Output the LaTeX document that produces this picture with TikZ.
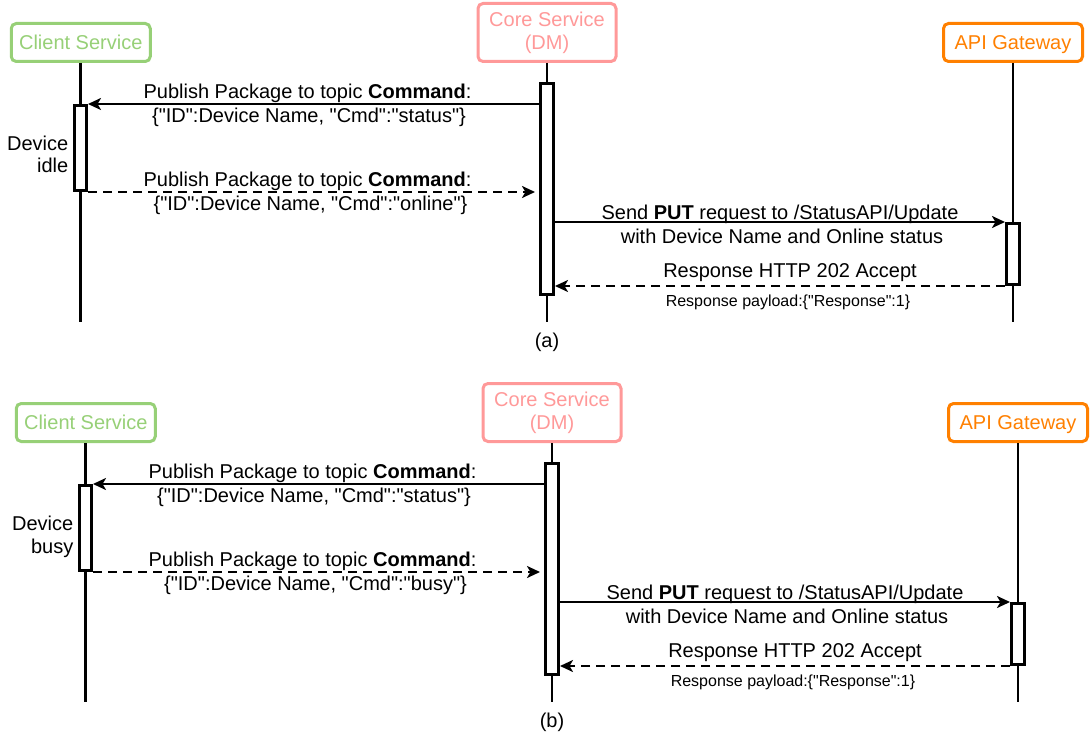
\documentclass[tikz,border=0pt]{standalone}
\usepackage{fontspec}
\setmainfont{Liberation Sans}[Ligatures=TeXOff]
\usetikzlibrary{arrows.meta}
\definecolor{cgreen}{HTML}{97D077}
\definecolor{cpink}{HTML}{FF9999}
\definecolor{corange}{HTML}{FF8000}
\tikzset{
  titlebox/.style={draw=#1, text=#1, line width=3pt, rounded corners=5pt, fill=white,
    inner sep=0pt, font=\fontsize{20}{23}\selectfont, align=center},
  life/.style={line width=2.6pt},
  actbox/.style={draw, fill=white, line width=3pt, minimum width=12pt, inner sep=0pt},
  msg/.style={line width=2.6pt, -{Stealth[length=13pt,width=12pt,inset=3.5pt]}},
  reply/.style={msg, dash pattern=on 9pt off 6pt},
  lbl/.style={anchor=base, inner sep=0pt, font=\fontsize{20}{23}\selectfont},
  smalllbl/.style={anchor=base, inner sep=0pt, font=\fontsize{16}{19}\selectfont},
}
\newcommand\seqdiag[4]{%
  % title boxes
  \node[titlebox=cgreen, minimum width=139pt, minimum height=38pt, text height=14pt, text depth=0pt] (cl#1) at (80.75,42.5) {Client Service};
  \node[titlebox=cpink, minimum width=138pt, minimum height=58pt] (co#1) at (547,32.5) {Core Service\\(DM)};
  \node[titlebox=corange, minimum width=139pt, minimum height=38pt, text height=14pt, text depth=0pt] (ap#1) at (1013,42.5) {API Gateway};
  % lifeline ends
  \coordinate (cle#1) at (80.75,322);
  \coordinate (coe#1) at (547,322);
  \coordinate (ape#1) at (1013,322);
  \draw[life] (cl#1.south) -- (cle#1);
  \draw[life] (co#1.south) -- (coe#1);
  \draw[life] (ap#1.south) -- (ape#1);
  % activations
  \node[actbox, minimum height=85pt] (ca#1) at (80.5,148) {};
  \node[actbox, minimum width=13pt, minimum height=211pt] (ka#1) at (547,189) {};
  \node[actbox, minimum width=13pt, minimum height=61pt] (aa#1) at (1013,254) {};
  % messages
  \draw[msg] (ca#1.north east -| ka#1.west) -- (ca#1.north east);
  \draw[reply, shorten >=4pt] (ca#1.south east) -- (ca#1.south east -| ka#1.west);
  \draw[msg] (aa#1.north west -| ka#1.east) -- (aa#1.north west);
  \draw[reply] (aa#1.south west) -- (aa#1.south west -| ka#1.east);
  % labels
  \node[lbl] (l1a#1) at (307.5,98.3) {Publish Package to topic \textbf{Command}:};
  \node[lbl] (l1b#1) at (309,122.3) {\{"ID":Device Name, "Cmd":"status"\}};
  \node[lbl] (l2a#1) at (307.5,186.5) {Publish Package to topic \textbf{Command}:};
  \node[lbl] (l2b#1) at (310.5,210.3) {\{"ID":Device Name, "Cmd":"#3"\}};
  \node[lbl] (l3a#1) at (780,219.3) {Send \textbf{PUT} request to /StatusAPI/Update};
  \node[lbl] (l3b#1) at (782,243.3) {with Device Name and Online status};
  \node[lbl] (l4a#1) at (790,277.3) {Response HTTP 202 Accept};
  \node[smalllbl] (l4b#1) at (788,306) {Response payload:\{"Response":1\}};
  \node[lbl, anchor=base east] (d1#1) at (68.5,150) {Device};
  \node[lbl, anchor=base east] (d2#1) at (68.5,173) {#2};
  \node[lbl] (cap#1) at (547,347.5) {#4};
}
\begin{document}
\begin{tikzpicture}[x=1pt,y=-1pt]
  \useasboundingbox (0,0) rectangle (1090,733);
  \begin{scope}
    \seqdiag{A}{idle}{online}{(a)}
  \end{scope}
  \begin{scope}[shift={(5,380)}]
    \seqdiag{B}{busy}{busy}{(b)}
  \end{scope}
\end{tikzpicture}
\end{document}
